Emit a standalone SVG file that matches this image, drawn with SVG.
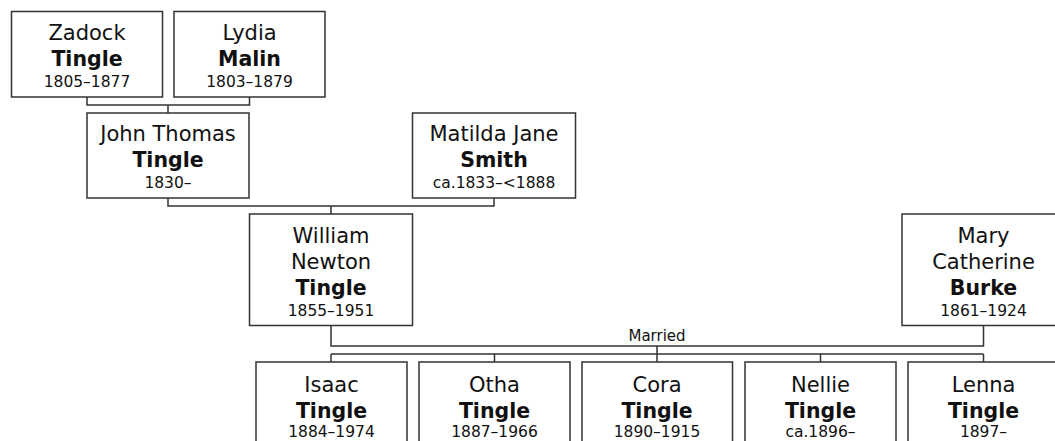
<svg xmlns="http://www.w3.org/2000/svg" width="1055" height="441" viewBox="0 0 1055 441">
<style>
.box{fill:#fff;stroke:#333;stroke-width:1.5}
.ln{fill:none;stroke:#333;stroke-width:1.5}
text{font-family:"DejaVu Sans",Verdana,sans-serif;fill:#111;text-anchor:middle}
.n{font-size:21px}
.s{font-size:20.5px;font-weight:bold}
.d{font-size:15.5px}
.m{font-size:15px}
</style>
<rect width="1055" height="441" fill="#fff"/>
<g id="connectors">
<path class="ln" d="M87 97 V105 H249.5 V97 M168 105 V113"/>
<path class="ln" d="M168 198 V206 H494 V198 M331 206 V214"/>
<path class="ln" d="M331 325.5 V346 H983.5 V325.5 M657 346 V354"/>
<path class="ln" d="M331 354 H983.5 M331 354 V362 M494.5 354 V362 M657 354 V362 M820.5 354 V362 M983.5 354 V362"/>
<text class="m" x="657" y="341">Married</text>
</g>
<g id="zadock">
<rect class="box" x="11.5" y="11.5" width="151" height="85.5"/>
<text class="n" x="87" y="40">Zadock</text>
<text class="s" x="87" y="66">Tingle</text>
<text class="d" x="87" y="86.5">1805–1877</text>
</g>
<g id="lydia">
<rect class="box" x="174" y="11.5" width="151" height="85.5"/>
<text class="n" x="249.5" y="40">Lydia</text>
<text class="s" x="249.5" y="66">Malin</text>
<text class="d" x="249.5" y="86.5">1803–1879</text>
</g>
<g id="john">
<rect class="box" x="87" y="113" width="162" height="85"/>
<text class="n" x="168" y="141">John Thomas</text>
<text class="s" x="168" y="167">Tingle</text>
<text class="d" x="168" y="187.5">1830–</text>
</g>
<g id="matilda">
<rect class="box" x="412.5" y="113" width="163" height="85"/>
<text class="n" x="494" y="141">Matilda Jane</text>
<text class="s" x="494" y="167">Smith</text>
<text class="d" x="494" y="187.5">ca.1833–&lt;1888</text>
</g>
<g id="william">
<rect class="box" x="249.5" y="214" width="163" height="111.5"/>
<text class="n" x="331" y="243">William</text>
<text class="n" x="331" y="269">Newton</text>
<text class="s" x="331" y="295">Tingle</text>
<text class="d" x="331" y="315.5">1855–1951</text>
</g>
<g id="mary">
<rect class="box" x="902" y="214" width="163" height="111.5"/>
<text class="n" x="983.5" y="243">Mary</text>
<text class="n" x="983.5" y="269">Catherine</text>
<text class="s" x="983.5" y="295">Burke</text>
<text class="d" x="983.5" y="315.5">1861–1924</text>
</g>
<g id="isaac">
<rect class="box" x="256" y="362" width="151" height="100"/>
<text class="n" x="331.5" y="391.5">Isaac</text>
<text class="s" x="331.5" y="417.5">Tingle</text>
<text class="d" x="331.5" y="437">1884–1974</text>
</g>
<g id="otha">
<rect class="box" x="419" y="362" width="151" height="100"/>
<text class="n" x="494.5" y="391.5">Otha</text>
<text class="s" x="494.5" y="417.5">Tingle</text>
<text class="d" x="494.5" y="437">1887–1966</text>
</g>
<g id="cora">
<rect class="box" x="582" y="362" width="150.5" height="100"/>
<text class="n" x="657" y="391.5">Cora</text>
<text class="s" x="657" y="417.5">Tingle</text>
<text class="d" x="657" y="437">1890–1915</text>
</g>
<g id="nellie">
<rect class="box" x="745" y="362" width="151" height="100"/>
<text class="n" x="820.5" y="391.5">Nellie</text>
<text class="s" x="820.5" y="417.5">Tingle</text>
<text class="d" x="820.5" y="437">ca.1896–</text>
</g>
<g id="lenna">
<rect class="box" x="908" y="362" width="151" height="100"/>
<text class="n" x="983.5" y="391.5">Lenna</text>
<text class="s" x="983.5" y="417.5">Tingle</text>
<text class="d" x="983.5" y="437">1897–</text>
</g>
</svg>
